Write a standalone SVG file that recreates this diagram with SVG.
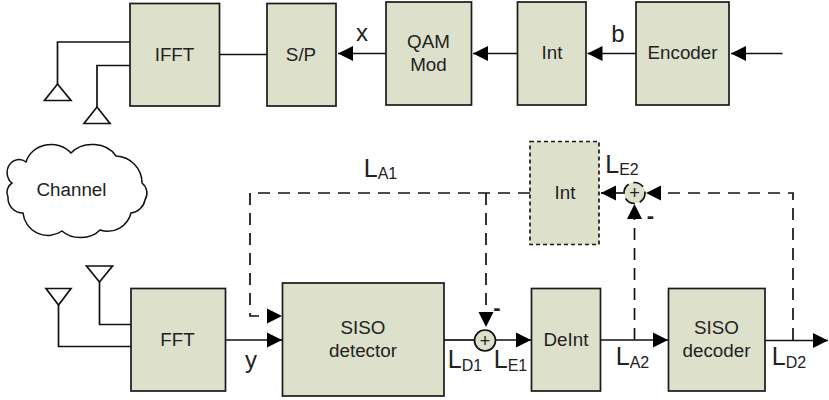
<svg xmlns="http://www.w3.org/2000/svg" width="829" height="400" viewBox="0 0 829 400">
<style>
text{font-family:"Liberation Sans",Arial,sans-serif;fill:#222;font-size:18.800px;text-anchor:middle}
.n{fill:#dde0cb;stroke:#1a1a1a;stroke-width:1.700}
.d{fill:#dde0cb;stroke:#1a1a1a;stroke-width:1.700;stroke-dasharray:4 3}
.l{fill:none;stroke:#111;stroke-width:1.700}
.s{fill:none;stroke:#111;stroke-width:1.700;stroke-dasharray:12 8}
.a{fill:none;stroke:#111;stroke-width:1.700}
.t{font-size:25px}
.t tspan{font-size:16px}
.b{font-size:24px}
.m{font-size:22px;font-weight:bold}
.p{font-size:18px}
</style>
<defs>
<marker id="h" markerUnits="userSpaceOnUse" markerWidth="18" markerHeight="18" refX="15" refY="8" orient="auto"><path d="M0 0.500L15 8L0 15.500Z" fill="#000"/></marker>
</defs>
<g id="connectors">
<path class="l" d="M130 42H57.500V84M130 65.500H97V107M219.500 54.500H267"/>
<path class="l" d="M386 53.500H338" marker-end="url(#h)"/>
<path class="l" d="M517.500 53.500H473" marker-end="url(#h)"/>
<path class="l" d="M636 53.500H587.500" marker-end="url(#h)"/>
<path class="l" d="M782.500 53.500H731" marker-end="url(#h)"/>
<path class="l" d="M131 324.500H99.500V282M131 346.500H58.500V305"/>
<path class="l" d="M225.500 340H282" marker-end="url(#h)"/>
<path class="l" d="M444 340H474.500"/>
<path class="l" d="M495.500 340H531" marker-end="url(#h)"/>
<path class="l" d="M600.500 340H668" marker-end="url(#h)"/>
<path class="l" d="M765 340.500H828" marker-end="url(#h)"/>
<path class="s" d="M530 193H250V316H282" marker-end="url(#h)"/>
<path class="s" d="M486 193V327" marker-end="url(#h)"/>
<path class="s" d="M634.500 340V204" marker-end="url(#h)"/>
<path class="s" d="M793 340V193H646" marker-end="url(#h)"/>
<path class="l" d="M623.500 193H601" marker-end="url(#h)"/>
</g>
<g id="ant1"><path class="a" d="M57.500 84L71 100.500H44.500Z"/></g>
<g id="ant2"><path class="a" d="M97 107L110 123.500H84Z"/></g>
<g id="ant3"><path class="a" d="M99.500 282L86.500 266H112.500Z"/></g>
<g id="ant4"><path class="a" d="M58.500 305L46 288.500H71Z"/></g>
<g id="ifft"><rect class="n" x="130" y="3.500" width="89.500" height="102.500"/><text x="174.500" y="60.500">IFFT</text></g>
<g id="sp"><rect class="n" x="267" y="3.500" width="69" height="102.500"/><text x="301" y="60.500">S/P</text></g>
<g id="qam"><rect class="n" x="386" y="2" width="85.500" height="103"/><text x="428.500" y="48">QAM</text><text x="428.500" y="71">Mod</text></g>
<g id="int1"><rect class="n" x="517.500" y="2" width="68.500" height="103"/><text x="552" y="59">Int</text></g>
<g id="encoder"><rect class="n" x="636" y="2" width="93" height="103"/><text x="682.500" y="59">Encoder</text></g>
<g id="channel"><path d="M12 183A11 12 0 0 1 26 162A26 24 0 0 1 71 153A27 22 0 0 1 116 156A27 27 0 0 1 142 183A13 13 0 0 1 145 200A16 16 0 0 1 131 213A24 24 0 0 1 100 230A24 18 0 0 1 62 231A25 25 0 0 1 23 213A15 15 0 0 1 8 197A11 11 0 0 1 12 183Z" fill="#fff" stroke="#111" stroke-width="1.500"/><text x="71.500" y="196">Channel</text></g>
<g id="fft"><rect class="n" x="131" y="288.500" width="94.500" height="102.500"/><text x="177.500" y="346">FFT</text></g>
<g id="detector"><rect class="n" x="282.500" y="283" width="161.500" height="113"/><text x="363" y="334">SISO</text><text x="363" y="357">detector</text></g>
<g id="deint"><rect class="n" x="531.500" y="288.500" width="69" height="102.500"/><text x="566" y="346">DeInt</text></g>
<g id="decoder"><rect class="n" x="668.500" y="288.500" width="96.500" height="102.500"/><text x="716.500" y="334">SISO</text><text x="716.500" y="357">decoder</text></g>
<g id="int2"><rect class="d" x="530" y="141.500" width="69" height="103"/><text x="565" y="199">Int</text></g>
<g id="sum1"><circle cx="485" cy="340.500" r="10.500" fill="#dde0cb" stroke="#111" stroke-width="1.700"/><text class="p" x="485" y="346.500">+</text></g>
<g id="sum2"><circle cx="634.500" cy="193" r="10.500" fill="#dde0cb" stroke="#111" stroke-width="1.700" stroke-dasharray="11 5"/><text class="p" x="634.500" y="199">+</text></g>
<text class="b" x="362" y="41">x</text>
<text class="b" x="618" y="42">b</text>
<text class="b" x="251" y="368">y</text>
<text class="t" x="380.500" y="176.500">L<tspan dy="2.500">A1</tspan></text>
<text class="t" x="622" y="172.500">L<tspan dy="2.500">E2</tspan></text>
<text class="t" x="465" y="368">L<tspan dy="2.500">D1</tspan></text>
<text class="t" x="510.500" y="368">L<tspan dy="2.500">E1</tspan></text>
<text class="t" x="632.500" y="365">L<tspan dy="2.500">A2</tspan></text>
<text class="t" x="789" y="365">L<tspan dy="2.500">D2</tspan></text>
<text class="m" x="497" y="315">-</text>
<text class="m" x="650.500" y="223">-</text>
</svg>
